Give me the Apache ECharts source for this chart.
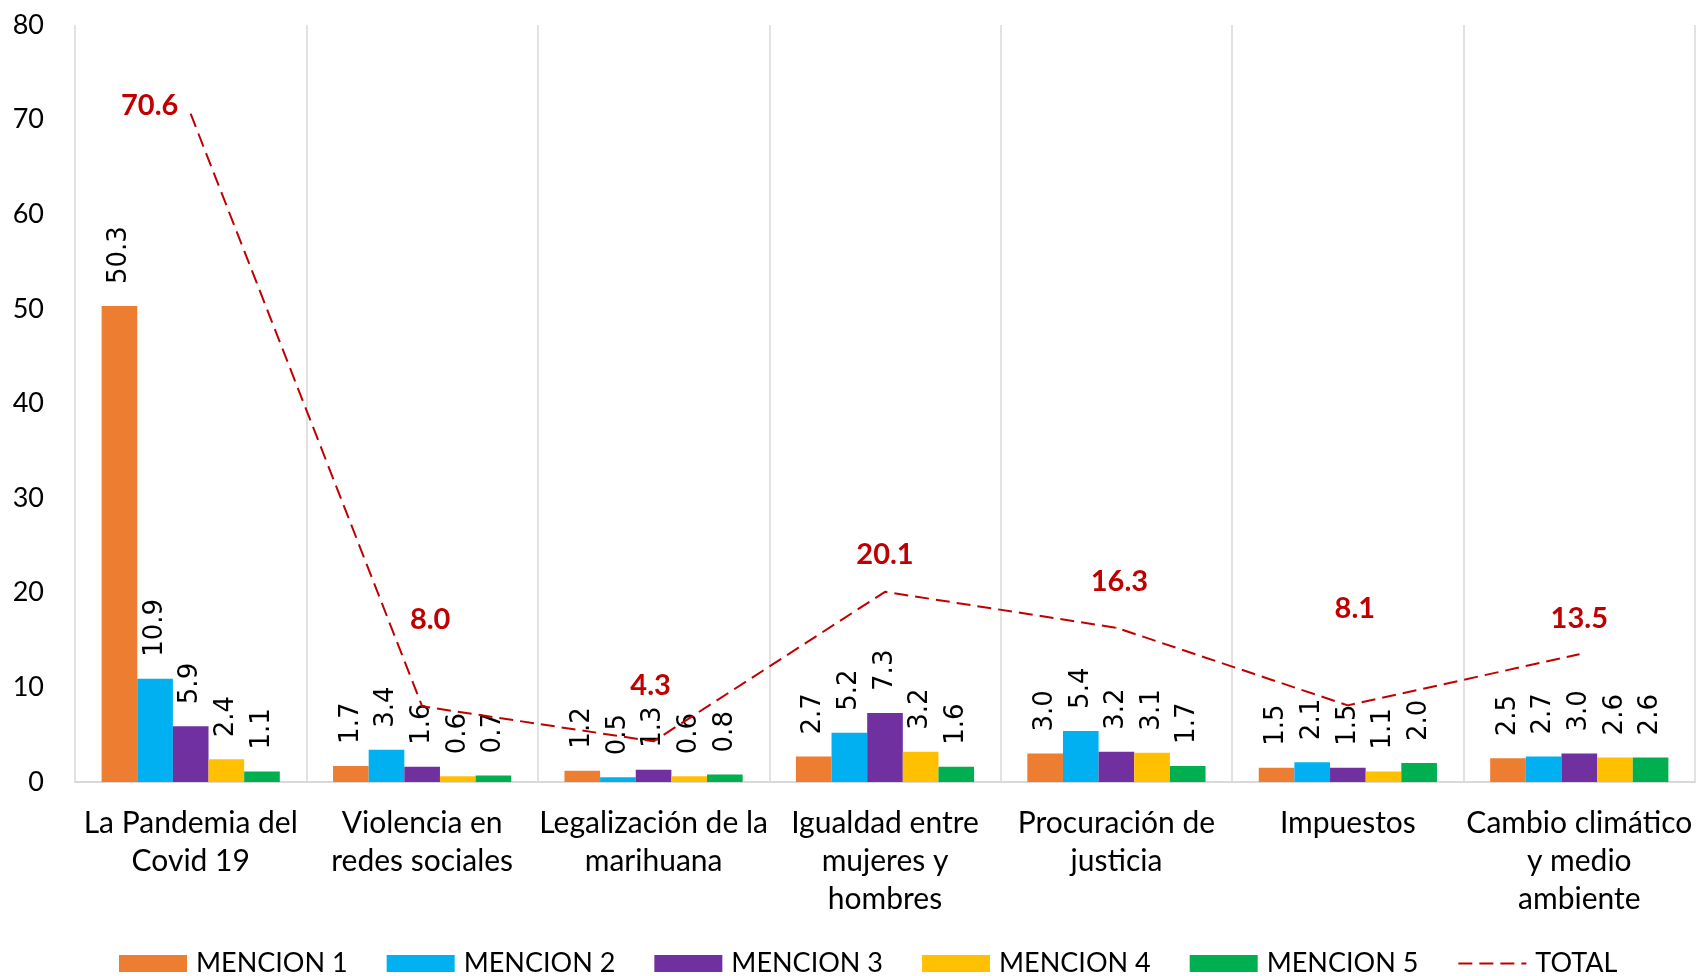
<!DOCTYPE html>
<html>
<head>
<meta charset="utf-8">
<script src="https://cdn.jsdelivr.net/npm/echarts@6/dist/echarts.min.js"></script>
<style>
  html, body { margin: 0; padding: 0; background: #fff; }
  #main { width: 1696px; height: 976px; }
</style>
</head>
<body>
<div id="main"></div>
<script>
//----------- Data
const categories = [
    "La Pandemia del\nCovid 19",
    "Violencia en\nredes sociales",
    "Legalización de la\nmarihuana",
    "Igualdad entre\nmujeres y\nhombres",
    "Procuración de\njusticia",
    "Impuestos",
    "Cambio climático\ny medio\nambiente"
];
const seriesNames = ["MENCION 1", "MENCION 2", "MENCION 3", "MENCION 4", "MENCION 5"];
const mencion1 = [50.3, 1.7, 1.2, 2.7, 3.0, 1.5, 2.5];
const mencion2 = [10.9, 3.4, 0.5, 5.2, 5.4, 2.1, 2.7];
const mencion3 = [5.9, 1.6, 1.3, 7.3, 3.2, 1.5, 3.0];
const mencion4 = [2.4, 0.6, 0.6, 3.2, 3.1, 1.1, 2.6];
const mencion5 = [1.1, 0.7, 0.8, 1.6, 1.7, 2.0, 2.6];
const total = [70.6, 8.0, 4.3, 20.1, 16.3, 8.1, 13.5];
const yTicks = [0, 10, 20, 30, 40, 50, 60, 70, 80];
//----------- Data

//Styling
const barColors = ["#ED7D31", "#00B0F0", "#7030A0", "#FFC000", "#00B050"];
const totalColor = "#C00000";
//label offsets of the TOTAL line, manually placed in the original
const totalLabelOffsets = [[-41, -8], [8, -87], [-3, -56], [0, -37], [3, -46], [7, -97], [0, -36]];
const font = "Lato";

const myChart = echarts.init(document.getElementById("main"));

const barSeries = [mencion1, mencion2, mencion3, mencion4, mencion5].map((values, i) => ({
    name: seriesNames[i],
    type: "bar",
    barGap: 0,
    barCategoryGap: "23%",
    itemStyle: { color: barColors[i] },
    label: {
        show: true,
        position: "top",
        rotate: 90,
        align: "left",
        verticalAlign: "middle",
        distance: 22,
        fontFamily: "DejaVu Sans",
        fontSize: 26,
        color: "#000",
        formatter: p => p.value.toFixed(1)
    },
    data: values
}));

const totalSeries = {
    name: "TOTAL",
    type: "line",
    symbol: "circle",
    symbolSize: 1,
    itemStyle: { color: totalColor },
    lineStyle: { color: totalColor, width: 2, type: [14, 7] },
    label: {
        show: true,
        position: "inside",
        fontFamily: font,
        fontWeight: "bold",
        fontSize: 29,
        color: totalColor,
        formatter: p => p.value.toFixed(1)
    },
    z: 5,
    data: total.map((v, i) => ({ value: v, label: { offset: totalLabelOffsets[i] } }))
};

const option = {
    animation: false,
    grid: { left: 75, right: 1, top: 25, bottom: 194, containLabel: false },
    legend: {
        left: 114,
        top: 945,
        itemWidth: 68,
        itemHeight: 17,
        itemGap: 39,
        textStyle: { fontFamily: font, fontSize: 27, color: "#000", padding: [0, 0, 0, 4] },
        data: seriesNames.map(n => ({ name: n, icon: "rect" })).concat([
            { name: "TOTAL", itemStyle: { color: "rgba(0,0,0,0)", borderWidth: 0 } }
        ])
    },
    xAxis: {
        type: "category",
        data: categories,
        axisLine: { lineStyle: { color: "#D9D9D9", width: 2 } },
        axisTick: { show: false },
        splitLine: { show: true, lineStyle: { color: "#D9D9D9", width: 1.5 } },
        axisLabel: {
            interval: 0,
            margin: 22,
            fontFamily: font,
            fontSize: 30,
            lineHeight: 38,
            color: "#000"
        }
    },
    yAxis: {
        type: "value",
        min: yTicks[0],
        max: yTicks[yTicks.length - 1],
        interval: yTicks[1] - yTicks[0],
        axisLine: { show: false },
        axisTick: { show: false },
        splitLine: { show: false },
        axisLabel: { margin: 31, fontFamily: font, fontSize: 27, color: "#000" }
    },
    series: barSeries.concat([totalSeries])
};

myChart.setOption(option);
</script>
</body>
</html>
